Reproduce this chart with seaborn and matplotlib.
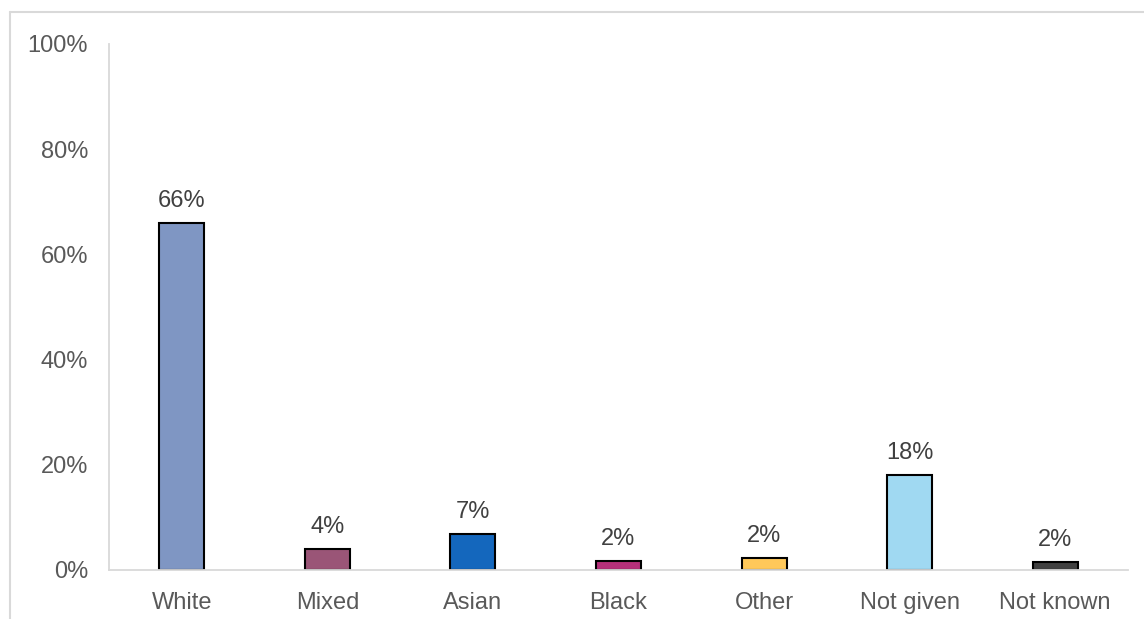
import matplotlib
matplotlib.use("Agg")
import matplotlib.pyplot as plt
from matplotlib.lines import Line2D
from matplotlib.ticker import FuncFormatter
import seaborn as sns
import pandas as pd

# Ethnicity breakdown (% of total)
categories = ["White", "Mixed", "Asian", "Black", "Other", "Not given", "Not known"]
values = [66, 4, 6.8, 1.7, 2.3, 18, 1.5]
labels = ["66%", "4%", "7%", "2%", "2%", "18%", "2%"]
colors = ["#7F96C3", "#9A5577", "#1467BD", "#B5307A", "#FFC85A", "#A0D9F2", "#404040"]
yticks = [0, 20, 40, 60, 80, 100]

sns.set_theme(style="white")
plt.rcParams["font.family"] = ["Liberation Sans", "DejaVu Sans"]

df = pd.DataFrame({"category": categories, "value": values})

fig = plt.figure(figsize=(11.44, 6.19), dpi=100)
ax = fig.add_axes([109 / 1144, 49 / 619, 1019 / 1144, 526 / 619])

sns.barplot(data=df, x="category", y="value", hue="category",
            palette=colors, order=categories, hue_order=categories,
            width=0.31, edgecolor="black", linewidth=1.5,
            legend=False, ax=ax, saturation=1)

ax.set_ylim(0, 100)
ax.set_yticks(yticks)
ax.yaxis.set_major_formatter(FuncFormatter(lambda v, _: f"{v:.0f}%"))
ax.set_xlabel("")
ax.set_ylabel("")

for side in ["top", "right"]:
    ax.spines[side].set_visible(False)
for side in ["left", "bottom"]:
    ax.spines[side].set_color("#D9D9D9")
    ax.spines[side].set_linewidth(1.3)

ax.tick_params(axis="both", length=0, labelsize=17, labelcolor="#595959")
ax.tick_params(axis="y", pad=15)
ax.tick_params(axis="x", pad=16)

# value labels above each bar
bars = sorted((p for c in ax.containers for p in c), key=lambda p: p.get_x())
for bar, lab in zip(bars, labels):
    ax.annotate(lab, (bar.get_x() + bar.get_width() / 2, bar.get_height()),
                xytext=(0, 8), textcoords="offset points",
                ha="center", va="bottom", fontsize=17, color="#404040")

# light outer chart frame
fig.add_artist(Line2D([10 / 1144, 1.0], [1 - 12 / 619, 1 - 12 / 619],
                      transform=fig.transFigure, color="#D9D9D9", linewidth=1.5))
fig.add_artist(Line2D([10 / 1144, 10 / 1144], [0, 1 - 12 / 619],
                      transform=fig.transFigure, color="#D9D9D9", linewidth=1.5))

fig.savefig("out.png", dpi=100, facecolor="white")
